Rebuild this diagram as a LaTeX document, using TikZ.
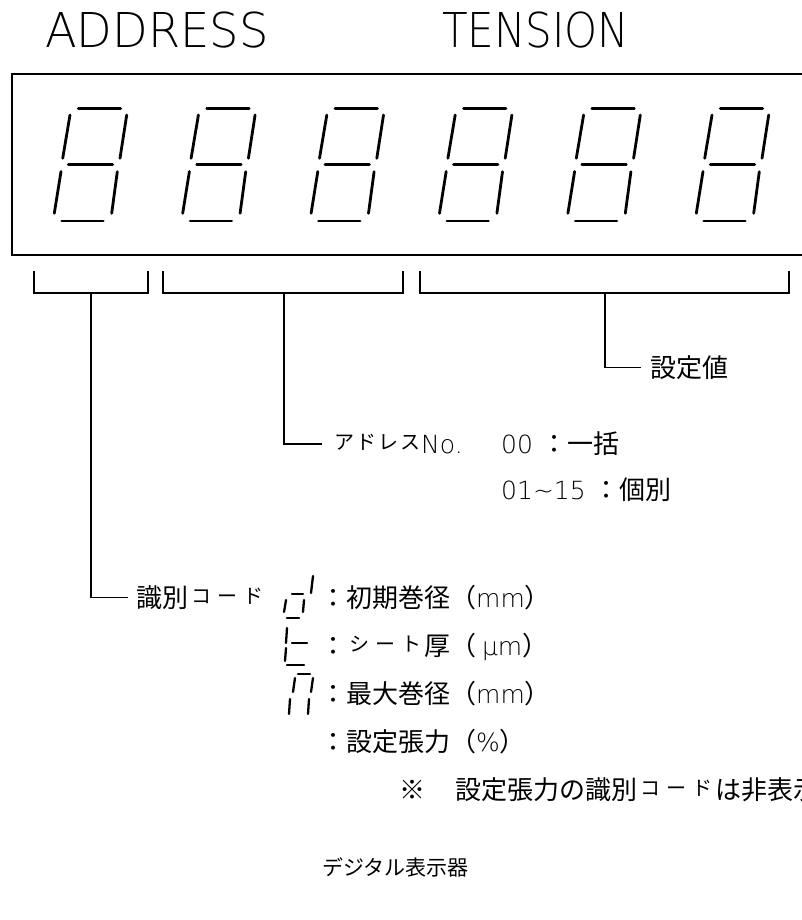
\documentclass[tikz,border=0pt]{standalone}
\usepackage{fontspec}
\usepackage{graphicx}
\setmainfont{Noto Sans CJK JP}
\newfontfamily\thinlat{DejaVu Sans ExtraLight}
\newcommand{\hkana}[2]{\makebox[#1]{\raisebox{4pt}{\fontsize{20}{20}\selectfont #2}}}
\newcommand{\lt}[1]{{\thinlat\fontsize{25}{25}\selectfont #1}}
\begin{document}
\begin{tikzpicture}[x=1pt,y=-1pt,
  seg/.style={line width=2.8pt,line cap=round},
  sseg/.style={line width=2.3pt,line cap=round},
  brk/.style={line width=1.2pt},
  frame/.style={line width=2pt},
  lbl/.style={anchor=base west,inner sep=0pt,font=\fontsize{26}{26}\selectfont},
  head/.style={anchor=base west,inner sep=0pt,font=\thinlat\fontsize{48}{48}\selectfont}]
\useasboundingbox (0,0) rectangle (802,920);
\clip (0,0) rectangle (802,920);

% headings
\node[head] (address) at (45,48) {\scalebox{0.965}[1]{ADDRESS}};
\node[head] (tension) at (442,48) {\scalebox{0.875}[1]{TENSION}};

% display frame
\draw[frame] (12,74) rectangle (840,255);

% seven-segment digits
\foreach \i in {0,...,5}{
  \begin{scope}[xshift=\i*128.4pt]
    \draw[seg] (78.3,108.3) -- (120.7,108.3);
    \draw[seg] (70,115) -- (62.7,158.3);
    \draw[seg] (126.7,115) -- (120,158.3);
    \draw[seg] (68.3,164.3) -- (112.7,164.3);
    \draw[seg] (61,171.5) -- (54.3,213.3);
    \draw[seg] (117.3,171.7) -- (111.7,213.3);
    \draw[seg] (61.7,221) -- (103.3,221);
  \end{scope}
}

% brackets
\draw[brk] (34,271) |- (148,293) -- (148,271);
\draw[brk] (163,271) |- (403,293) -- (403,271);
\draw[brk] (420,271) |- (789,293) -- (789,271);
\coordinate (b1) at (91,293);
\coordinate (b2) at (284,293);
\coordinate (b3) at (605,293);

% labels
\node[lbl] (setval) at (650,377.5) {設定値};
\draw[brk] (b3) |- ([xshift=-9pt]setval.west);

\node[lbl] (addr) at (333,453.5) {\hkana{22pt}{ア}\hkana{22pt}{ド}\hkana{22pt}{レ}\hkana{22pt}{ス}\lt{No.}};
\draw[brk] (b2) |- ([xshift=-11pt]addr.west);
\node[lbl] (all) at (501,453.5) {\lt{00}\hspace{8pt}：一括};
\node[lbl] (each) at (501,499.5) {\lt{01\textasciitilde 15}\hspace{8pt}：個別};

\node[lbl] (idc) at (136,607.5) {識別\hkana{26pt}{コ}\hkana{26pt}{ー}\hkana{26pt}{ド}};
\draw[brk] (b1) |- ([xshift=-8pt]idc.west);

% small identification glyphs
\draw[sseg] (313,576) -- (311,593);
\draw[sseg] (292,594) -- (303,594);
\draw[sseg] (286,600) -- (284,612);
\draw[sseg] (304,600) -- (303,612);
\draw[sseg] (287,618) -- (299,618);

\draw[sseg] (287,628) -- (286,643);
\draw[sseg] (292,643) -- (307,643);
\draw[sseg] (286,648) -- (285,661);
\draw[sseg] (287,665) -- (304,665);

\draw[sseg] (298,674) -- (310,674);
\draw[sseg] (295,678) -- (293,692);
\draw[sseg] (313,678) -- (311,692);
\draw[sseg] (290,699) -- (289,714);
\draw[sseg] (309,699) -- (308,714);

\node[lbl] (d1) at (320,607.5) {：初期巻径（\lt{mm}）};
\node[lbl] (d2) at (320,655.5) {：\hkana{26pt}{シ}\hkana{26pt}{ー}\hkana{26pt}{ト}厚（ \lt{μm}）};
\node[lbl] (d3) at (320,703.5) {：最大巻径（\lt{mm}）};
\node[lbl] (d4) at (320,751.5) {：設定張力（\lt{\%}）};
\node[lbl] (note) at (399,799.5) {※\hspace{30pt}設定張力の識別\hkana{26pt}{コ}\hkana{26pt}{ー}\hkana{26pt}{ド}は非表示};
\node[lbl] (title) at (322,875) {\fontsize{21}{21}\selectfont デジタル表示器};
\end{tikzpicture}
\end{document}
